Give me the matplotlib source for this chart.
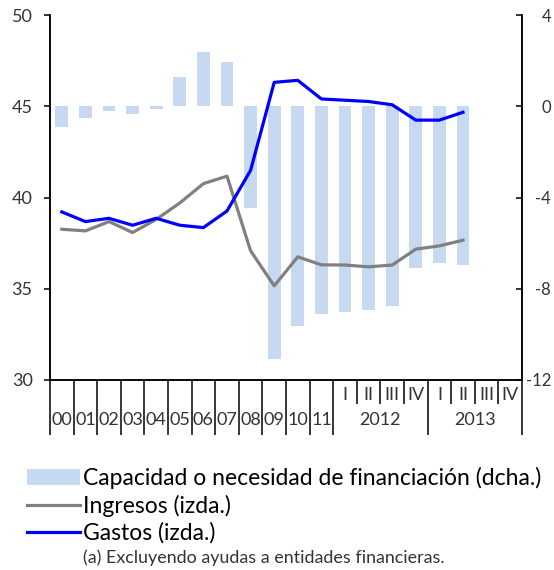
import matplotlib
matplotlib.use("Agg")
import matplotlib.pyplot as plt
import numpy as np

plt.rcParams['font.family'] = ['Lato', 'DejaVu Sans']
plt.rcParams['axes.unicode_minus'] = False

# categories: annual 2000-2011, then quarters of 2012 and 2013
years = ['00', '01', '02', '03', '04', '05', '06', '07', '08', '09', '10', '11']
quarters = ['I', 'II', 'III', 'IV', 'I', 'II', 'III', 'IV']
quarter_years = ['2012', '2013']

# % of GDP
capacidad = [-0.92, -0.52, -0.19, -0.35, -0.10, 1.28, 2.36, 1.95, -4.47, -11.1,
             -9.63, -9.1, -9.0, -8.92, -8.76, -7.1, -6.86, -6.94]
ingresos = [38.26, 38.17, 38.68, 38.08, 38.8, 39.7, 40.76, 41.17, 37.08, 35.16,
            36.75, 36.31, 36.3, 36.2, 36.3, 37.17, 37.35, 37.66]
gastos = [39.21, 38.68, 38.86, 38.48, 38.86, 38.48, 38.35, 39.26, 41.49, 46.31,
          46.42, 45.4, 45.33, 45.26, 45.08, 44.24, 44.24, 44.67]

n_slots = len(years) + len(quarters)
xpos = np.arange(len(capacidad)) + 0.5

BAR = '#c6d9f0'
GRAY = '#808080'
BLUE = '#0000ff'
TXT = '#333333'

fig = plt.figure(figsize=(5.54, 5.70), dpi=100)
ax = fig.add_axes([50/554, 190/570, 472/554, 365/570])
ax2 = ax.twinx()
ax.set_zorder(ax2.get_zorder() + 1)
ax.patch.set_visible(False)

ax2.bar(xpos, capacidad, width=0.55, color=BAR, label='Capacidad o necesidad de financiación (dcha.)')
ax.plot(xpos, ingresos, color=GRAY, lw=2.3, label='Ingresos (izda.)')
ax.plot(xpos, gastos, color=BLUE, lw=2.3, label='Gastos (izda.)')

ax.set_xlim(0, n_slots)
ax.set_ylim(30, 50)
ax.set_yticks([30, 35, 40, 45, 50])
ax2.set_ylim(-12, 4)
ax2.set_yticks([-12, -8, -4, 0, 4])

for a in (ax, ax2):
    a.spines['top'].set_visible(False)
    for s in ('left', 'right', 'bottom'):
        a.spines[s].set_linewidth(1.1)
        a.spines[s].set_color('black')
ax.tick_params(axis='y', direction='out', length=4, width=1.1, pad=8.5, labelsize=13, labelcolor=TXT)
ax2.tick_params(axis='y', direction='in', length=4, width=1.1, pad=21, labelsize=12, labelcolor=TXT)
for lab in ax2.get_yticklabels():
    lab.set_horizontalalignment('right')

# category axis: long dividers between years, short ones between quarters
nq = len(years)
long_ticks = list(range(0, nq + 1)) + [nq + 4, nq + 8]
short_ticks = [nq + 1, nq + 2, nq + 3, nq + 5, nq + 6, nq + 7]
ax.set_xticks(long_ticks)
ax.set_xticks(short_ticks, minor=True)
ax.tick_params(axis='x', which='major', direction='out', length=39.5, width=1.1, labelbottom=False)
ax.tick_params(axis='x', which='minor', direction='out', length=17, width=1.1, labelbottom=False)
ax2.tick_params(axis='x', which='both', bottom=False, labelbottom=False)

tr = ax.get_xaxis_transform()
for i, y in enumerate(years):
    ax.text(i + 0.5, -0.11, y, transform=tr, ha='center', va='center', fontsize=13, color=TXT)
for i, q in enumerate(quarters):
    ax.text(nq + i + 0.5, -0.042, q, transform=tr, ha='center', va='center', fontsize=13, color=TXT)
for i, y in enumerate(quarter_years):
    ax.text(nq + 4 * i + 2, -0.11, y, transform=tr, ha='center', va='center', fontsize=13, color=TXT)

handles = ax2.get_legend_handles_labels()[0] + ax.get_legend_handles_labels()[0]
labels = ax2.get_legend_handles_labels()[1] + ax.get_legend_handles_labels()[1]
fig.legend(handles, labels, loc='upper left', bbox_to_anchor=(27/554, 1 - 467/570),
           frameon=False, fontsize=16.5, handlelength=2.32, handleheight=0.7,
           handletextpad=0.13, labelspacing=0.24, borderaxespad=0, borderpad=0)

fig.text(83/554, 1 - 558/570, '(a) Excluyendo ayudas a entidades financieras.',
         ha='left', va='center', fontsize=12.9, color=TXT)

fig.savefig('out.png', dpi=100)
